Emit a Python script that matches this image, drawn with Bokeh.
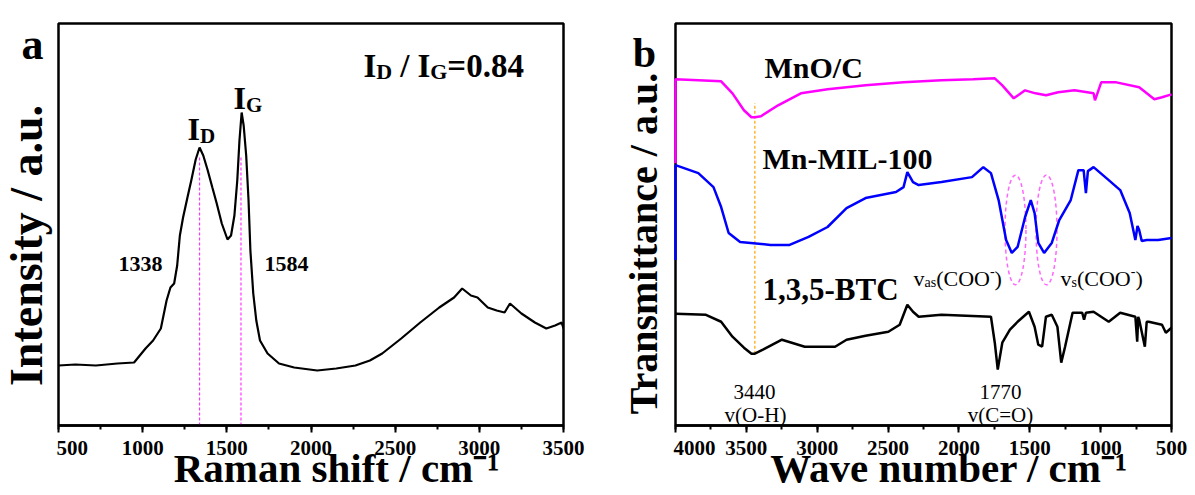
import math
from bokeh.plotting import figure
from bokeh.models import Range1d, Label, SingleIntervalTicker
from bokeh.layouts import row
from bokeh.embed import file_html
from bokeh.resources import INLINE

# ---------------- data: panel a (Raman) ----------------
raman_shift = [500, 600, 722, 850, 949, 1017, 1062, 1108, 1142, 1165, 1187, 1205, 1221,
               1240, 1266, 1290, 1315, 1338, 1360, 1385, 1414, 1440, 1470, 1504, 1525,
               1545, 1562, 1575, 1588, 1600, 1615, 1629, 1640, 1657, 1675, 1697, 1742,
               1810, 1900, 2037, 2150, 2264, 2350, 2423, 2536, 2649, 2762, 2850, 2898,
               2950, 2989, 3050, 3103, 3150, 3182, 3250, 3330, 3398, 3450, 3489, 3500]
raman_int = [60, 61, 60, 62, 63, 77, 85, 97, 125, 138, 142, 160, 190,
             208, 228, 246, 266, 278, 270, 256, 238, 222, 202, 186, 190,
             210, 245, 285, 313, 300, 270, 225, 175, 132, 105, 85, 72,
             62, 58, 55, 57, 60, 65, 72, 87, 103, 118, 128, 137,
             130, 128, 118, 115, 113, 122, 112, 103, 97, 100, 103, 97]
d_band = 1338
g_band = 1584
band_mark_top = 270

# ---------------- data: panel b (FTIR) ----------------
mno_x = [4000, 4000, 3678, 3598, 3517, 3464, 3440, 3397, 3276, 3115, 2927, 2659, 2391,
         2123, 1900, 1747, 1694, 1613, 1533, 1460, 1385, 1300, 1184, 1050, 1040, 996,
         889, 728, 621, 567, 500]
mno_y = [263, 347, 345, 333, 316, 309, 309, 310, 321, 333, 337, 341, 344,
         346, 347, 348, 341, 328, 336, 333, 331, 334, 336, 333, 326, 344,
         344, 339, 327, 329, 332]

mil_x = [4000, 4000, 3839, 3732, 3678, 3625, 3544, 3330, 3195, 3061, 2927, 2793, 2659,
         2444, 2391, 2364, 2324, 2284, 2123, 1908, 1828, 1774, 1720, 1667, 1627, 1586,
         1533, 1493, 1466, 1440, 1399, 1345, 1292, 1211, 1157, 1120, 1104, 1090, 1050,
         943, 862, 795, 755, 740, 728, 710, 675, 594, 500]
mil_y = [166, 261, 253, 239, 219, 193, 184, 181, 181, 189, 199, 218, 228,
         234, 239, 254, 244, 241, 244, 249, 259, 253, 226, 186, 173, 179,
         209, 226, 213, 183, 173, 183, 206, 226, 256, 256, 233, 255, 259,
         246, 236, 213, 186, 200, 196, 185, 186, 186, 188]

btc_x = [4000, 3785, 3678, 3598, 3517, 3464, 3440, 3383, 3249, 3088, 2874, 2793, 2659,
         2498, 2418, 2364, 2324, 2284, 2123, 1774, 1747, 1726, 1694, 1640, 1586, 1506,
         1466, 1440, 1413, 1386, 1345, 1305, 1278, 1251, 1198, 1130, 1117, 1104, 1050,
         943, 862, 755, 742, 735, 728, 688, 675, 661, 567, 540, 500]
btc_y = [112, 111, 104, 89, 78, 72, 72, 76, 86, 79, 79, 86, 90,
         94, 101, 121, 114, 109, 111, 109, 83, 56, 83, 96, 104, 114,
         99, 81, 79, 109, 111, 99, 63, 79, 113, 113, 106, 113, 114,
         104, 113, 109, 84, 109, 106, 79, 104, 104, 101, 93, 98]

oh_band = 3440
oh_top = 323
oh_bottom = 72
coo_x = [1601, 1382]
coo_y = [196, 196]
coo_w = [148, 148]
coo_h = [110, 110]

x_ticks_step = 500

SERIF = "Liberation Serif"
H = 495
TOP, BOTTOM = 23, 425        # frame edges shared by every figure of the row
NBSP = "\u00a0"

BOLD_W = {' ': .25, '(': .333, ')': .333, ',': .25, '-': .333, '.': .25, '/': .278,
          '=': .57, 'C': .722, 'D': .722, 'G': .778, 'H': .778, 'I': .389, 'O': .778,
          'a': .5, 's': .389, 'v': .5}
REG_W = {' ': .25, '(': .333, ')': .333, '-': .333, 'C': .667, 'O': .722, 'H': .722,
         'a': .444, 's': .389, 'v': .5, '=': .564}


def text_width(t, size, bold):
    tab = BOLD_W if bold else REG_W
    return sum(tab.get(c, .5) for c in t) * size


def blank_fig(w):
    f = figure(width=w, height=H, output_backend="svg", toolbar_location=None,
               x_range=Range1d(0, w), y_range=Range1d(H - BOTTOM, H - TOP),
               x_axis_location=None, y_axis_location=None,
               min_border_left=0, min_border_right=0, min_border_top=TOP,
               min_border_bottom=H - BOTTOM)
    f.title_location = None
    f.xgrid.visible = False
    f.ygrid.visible = False
    f.outline_line_color = None
    f.background_fill_color = "white"
    f.border_fill_color = "white"
    return f


def style_fig(p, xlabel):
    p.title_location = None
    p.xgrid.visible = False
    p.ygrid.visible = False
    p.outline_line_color = "black"
    p.outline_line_width = 2.5
    p.background_fill_color = "white"
    p.border_fill_color = "white"
    ax = p.xaxis[0]
    ax.ticker = SingleIntervalTicker(interval=x_ticks_step, num_minor_ticks=2)
    ax.axis_line_width = 2.5
    ax.major_tick_line_width = 2
    ax.minor_tick_line_width = 2
    ax.major_tick_out = 7
    ax.major_tick_in = 0
    ax.minor_tick_out = 4
    ax.minor_tick_in = 0
    ax.major_label_text_font = SERIF
    ax.major_label_text_font_style = "bold"
    ax.major_label_text_font_size = "21px"
    ax.major_label_text_color = "black"
    ax.major_label_standoff = 8
    ax.axis_label = NBSP * 5 + xlabel
    ax.axis_label_text_font = SERIF
    ax.axis_label_text_font_style = "bold"
    ax.axis_label_text_font_size = "41px"
    ax.axis_label_text_color = "black"
    ax.axis_label_standoff = -13


def pieces(p, tx, ty, x0, base, parts, bold=True, color="black"):
    """parts: list of (text, size, drop_px); text None means a gap of `size` px"""
    cx = x0
    for t, size, drop in parts:
        if t is None:
            cx += size
            continue
        p.add_layout(Label(x=tx(cx), y=ty(base + drop), text=t,
                           text_font=SERIF, text_font_size=f"{size}px",
                           text_font_style="bold" if bold else "normal",
                           text_color=color, text_align="left",
                           text_baseline="alphabetic"))
        cx += text_width(t, size, bold)


def centered(p, x, y, t, size, bold=True, angle=0.0, baseline="alphabetic"):
    p.add_layout(Label(x=x, y=y, text=t, text_font=SERIF, text_font_size=f"{size}px",
                       text_font_style="bold" if bold else "normal", text_color="black",
                       text_align="center", text_baseline=baseline, angle=angle))


sy = lambda py: H - py          # picture y -> side-figure y

# ---------------- panel a ----------------
side_a = blank_fig(56)
centered(side_a, 32, sy(44), "a", 44)
centered(side_a, 26, sy(245), "Intensity / a.u.", 46, angle=math.pi / 2, baseline="middle")

pa = figure(width=564, height=H, output_backend="svg", toolbar_location=None,
            x_range=Range1d(500, 3500), y_range=Range1d(0, 402), y_axis_location=None,
            min_border_left=2, min_border_right=57, min_border_top=TOP,
            min_border_bottom=H - BOTTOM)
style_fig(pa, "Raman shift / cm\u207b\u00b9")

pa.segment(x0=[d_band, g_band], y0=[0, 0], x1=[d_band, g_band], y1=[band_mark_top, band_mark_top],
           line_color="#FF33FF", line_width=1.2, line_dash="3 2")
pa.line(raman_shift, raman_int, line_color="black", line_width=2.2)

ax_a = lambda px: 500 + (px - 58) * 3000 / 505
ay_a = lambda py: 425 - py

centered(pa, ax_a(140), ay_a(263), str(d_band), 22)
centered(pa, ax_a(286), ay_a(263), str(g_band), 22)
pieces(pa, ax_a, ay_a, 187, 128, [("I", 32, 0), ("D", 21, 7)])
pieces(pa, ax_a, ay_a, 233, 97, [("I", 32, 0), ("G", 21, 7)])
pieces(pa, ax_a, ay_a, 363, 65, [("I", 33, 0), ("D", 22, 6), (None, 8, 0), ("/", 33, 0),
                                 (None, 8, 0), ("I", 33, 0), ("G", 22, 6), ("=0.84", 33, 0)])

# ---------------- panel b ----------------
side_b = blank_fig(53)
centered(side_b, 644 - 620, sy(52), "b", 42)
centered(side_b, 643 - 620, sy(243), "Transmittance / a.u.", 40, angle=math.pi / 2,
         baseline="middle")

pb = figure(width=522, height=H, output_backend="svg", toolbar_location=None,
            x_range=Range1d(4000, 500), y_range=Range1d(0, 403), y_axis_location=None,
            min_border_left=2, min_border_right=24, min_border_top=TOP,
            min_border_bottom=H - BOTTOM)
style_fig(pb, "Wave number / cm\u207b\u00b9")

pb.ellipse(x=coo_x, y=coo_y, width=coo_w, height=coo_h, fill_color=None,
           line_color="#FF66FF", line_width=1.5, line_dash="4 3")
pb.segment(x0=[oh_band], y0=[oh_bottom], x1=[oh_band], y1=[oh_top],
           line_color="#FFA500", line_width=1.2, line_dash="3 2")
r1 = pb.line(mno_x, mno_y, line_color="#FF00FF", line_width=2.5)
r2 = pb.line(mil_x, mil_y, line_color="#0000FF", line_width=2.5)
r3 = pb.line(btc_x, btc_y, line_color="black", line_width=2.5)
for r in (r1, r2, r3):
    r.level = "overlay"

ax_b = lambda px: 4000 - (px - 675) * 3500 / 496
ay_b = lambda py: 426 - py

pieces(pb, ax_b, ay_b, 764, 67, [("MnO/C", 30, 0)])
pieces(pb, ax_b, ay_b, 762, 158, [("Mn-MIL-100", 30, 0)])
pieces(pb, ax_b, ay_b, 762, 290, [("1,3,5-BTC", 31, 0)])
pieces(pb, ax_b, ay_b, 913, 279, [("v", 22, 0), ("as", 14, 4), ("(COO", 22, 0), ("-", 14, -8),
                                  (")", 22, 0)], bold=False)
pieces(pb, ax_b, ay_b, 1060, 279, [("v", 22, 0), ("s", 14, 4), ("(COO", 22, 0), ("-", 14, -8),
                                   (")", 22, 0)], bold=False)
centered(pb, ax_b(754), ay_b(392), "3440", 21, bold=False)
centered(pb, ax_b(755), ay_b(415), "v(O-H)", 21, bold=False)
centered(pb, ax_b(1000), ay_b(392), "1770", 21, bold=False)
centered(pb, ax_b(1000), ay_b(415), "v(C=O)", 21, bold=False)

layout = row(side_a, pa, side_b, pb)
open("out.html", "w").write(file_html(layout, INLINE))
